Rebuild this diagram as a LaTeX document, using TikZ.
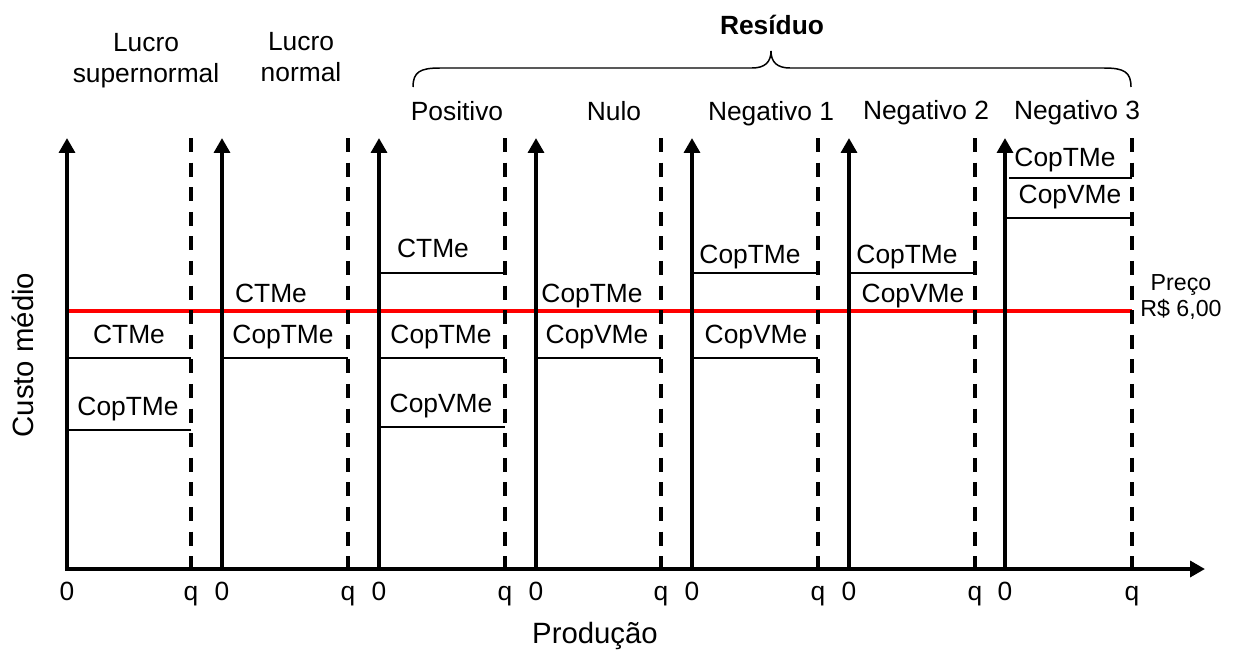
\documentclass[tikz,border=0pt]{standalone}
\usepackage{fontspec}
\setmainfont{Liberation Sans}
\usetikzlibrary{arrows.meta,positioning}
\definecolor{ink}{HTML}{000000}
\definecolor{price}{HTML}{FF0000}
\tikzset{
  >={Triangle[length=8.5pt,width=9pt]},
  every node/.style={font=\fontsize{15}{18}\selectfont,text=ink,inner sep=0pt,anchor=base},
  axis/.style={->,line width=2.3pt,draw=ink},
  qline/.style={line width=2.3pt,draw=ink,dash pattern=on 8pt off 6pt},
  level/.style={line width=0.85pt,draw=ink},
  pricearr/.style={line width=2.3pt,draw=price},
  brace/.style={line width=0.85pt,draw=ink},
  title/.style={align=center},
  axlabel/.style={font=\fontsize{16.7}{20}\selectfont},
  small/.style={font=\fontsize{13.2}{16}\selectfont},
}

\begin{document}
\begin{tikzpicture}[x=0.02cm,y=-0.02cm]
  \useasboundingbox (0,0) rectangle (1237,652);

  % price line
  \coordinate (p0) at (67,311);
  \coordinate (p1) at (1132,311);
  \draw[pricearr] (p0) -- (p1);

  % one panel per case: origin axis and dashed q line
  \foreach \i/\o/\q in {1/67/191,2/222/348,3/379/505,4/536/661,5/692/818,6/849/975,7/1005/1132} {
    \coordinate (o\i) at (\o,569);
    \coordinate (t\i) at (\o,138);
    \coordinate (q\i) at (\q,569);
    \coordinate (qt\i) at (\q,138);
    \draw[qline] (qt\i) -- (q\i);
    \draw[axis] (o\i) -- (t\i);
    \node (zero\i) at (\o,600) {0};
    \node (qlab\i) at (\q,600) {q};
  }
  \coordinate (xend) at (1205,569);
  \draw[axis,shorten <=-1.15pt] (o1) -- (xend);

  \node[axlabel] (xlab) at (595,643) {Produção};
  \node[axlabel,rotate=90] (ylab) at (33,355) {Custo médio};

  % titles
  \node[title] (sup) at (146,83) {Lucro\\supernormal};
  \node[title] (nor) at (301,82) {Lucro\\normal};
  \node (pos) at (457,120) {Positivo};
  \node (nul) at (614,120) {Nulo};
  \node (neg1) at (771,120) {Negativo 1};
  \node (neg2) at (926,119) {Negativo 2};
  \node (neg3) at (1077,119) {Negativo 3};

  % residue brace
  \coordinate (bl) at (413,87);
  \coordinate (br) at (1131,87);
  \coordinate (btip) at (771,51);
  \draw[brace] (bl) .. controls (413,72) and (420,68) .. (440,68) -- (752,68)
    .. controls (765,68) and (771,62) .. (btip)
    .. controls (771,62) and (777,68) .. (790,68) -- (1104,68)
    .. controls (1124,68) and (1131,72) .. (br);
  \node[font=\fontsize{15}{18}\selectfont\bfseries] (res) at (772,35) {Resíduo};

  % panel 1: lucro supernormal
  \node (ctme1) at (129,343) {CTMe};
  \draw[level] (67,358) -- (191,358);
  \node (coptme1) at (128,415) {CopTMe};
  \draw[level] (67,430) -- (191,430);

  % panel 2: lucro normal
  \node (ctme2) at (271,302) {CTMe};
  \node (coptme2) at (283,343) {CopTMe};
  \draw[level] (222,358) -- (348,358);

  % panel 3: positivo
  \node (ctme3) at (433,257) {CTMe};
  \draw[level] (379,273) -- (505,273);
  \node (coptme3) at (441,343) {CopTMe};
  \draw[level] (379,358) -- (505,358);
  \node (copvme3) at (441,412) {CopVMe};
  \draw[level] (379,427) -- (505,427);

  % panel 4: nulo
  \node (coptme4) at (592,302) {CopTMe};
  \node (copvme4) at (597,343) {CopVMe};
  \draw[level] (536,358) -- (661,358);

  % panel 5: negativo 1
  \node (coptme5) at (750,263) {CopTMe};
  \draw[level] (692,273) -- (818,273);
  \node (copvme5) at (756,343) {CopVMe};
  \draw[level] (692,358) -- (818,358);

  % panel 6: negativo 2
  \node (coptme6) at (907,263) {CopTMe};
  \draw[level] (849,273) -- (975,273);
  \node (copvme6) at (913,302) {CopVMe};

  % panel 7: negativo 3
  \node (coptme7) at (1065,166) {CopTMe};
  \draw[level] (1009,178) -- (1132,178);
  \node (copvme7) at (1070,203) {CopVMe};
  \draw[level] (1007,218) -- (1132,218);

  % price
  \node[small] (preco) at (1181,290) {Preço};
  \node[small] (valor) at (1181,316) {R\$ 6,00};
\end{tikzpicture}
\end{document}
